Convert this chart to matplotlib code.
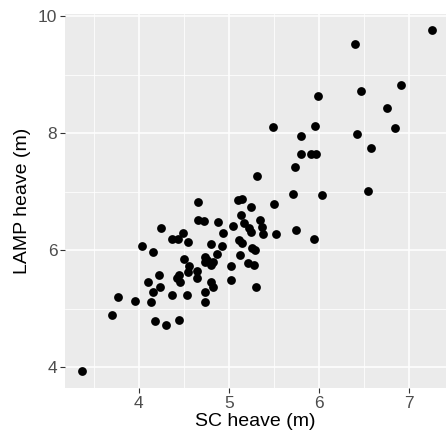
import matplotlib
matplotlib.use("Agg")
import matplotlib.pyplot as plt
from matplotlib.ticker import MultipleLocator

plt.rcParams['font.family'] = ['Liberation Sans', 'DejaVu Sans']

# SC heave vs LAMP heave (m)
sc_heave = [
    7.26, 6.40, 6.91, 6.47, 5.99, 6.75, 5.49, 5.96, 6.42, 6.84,
    5.80, 6.58, 5.80, 5.91, 5.97, 5.73, 5.31, 5.71, 6.03, 6.54,
    4.66, 5.10, 5.14, 5.50, 5.25, 5.13, 4.66, 4.72, 4.88, 5.35,
    4.25, 5.04, 5.17, 5.22, 5.37, 5.74, 4.93, 5.25, 5.38, 5.52,
    4.49, 4.37, 4.44, 4.55, 5.95, 5.11, 5.15, 4.80, 4.92, 4.04,
    4.16, 5.26, 5.29, 5.12, 4.87, 4.50, 4.73, 4.76, 4.82, 4.80,
    4.73, 5.21, 5.28, 5.02, 4.56, 4.64, 4.55, 4.45, 4.22, 4.64,
    4.42, 4.46, 5.02, 4.10, 4.80, 4.23, 4.82, 5.30, 4.16, 4.73,
    3.77, 4.37, 4.53, 3.96, 4.14, 4.73, 3.70, 4.18, 4.30, 4.45,
    3.37,
]
lamp_heave = [
    9.76, 9.52, 8.82, 8.72, 8.63, 8.44, 8.11, 8.13, 7.98, 8.09,
    7.95, 7.74, 7.64, 7.65, 7.65, 7.43, 7.26, 6.96, 6.95, 7.01,
    6.82, 6.85, 6.88, 6.79, 6.74, 6.60, 6.52, 6.50, 6.48, 6.51,
    6.38, 6.41, 6.46, 6.37, 6.39, 6.35, 6.30, 6.31, 6.27, 6.27,
    6.29, 6.19, 6.19, 6.14, 6.19, 6.18, 6.12, 6.10, 6.07, 6.07,
    5.97, 6.03, 6.01, 5.91, 5.93, 5.85, 5.88, 5.83, 5.79, 5.74,
    5.79, 5.78, 5.75, 5.72, 5.73, 5.64, 5.63, 5.57, 5.58, 5.53,
    5.52, 5.46, 5.49, 5.45, 5.46, 5.36, 5.37, 5.36, 5.29, 5.29,
    5.20, 5.23, 5.23, 5.13, 5.12, 5.11, 4.89, 4.79, 4.71, 4.80,
    3.93,
]

fig = plt.figure(figsize=(4.46, 4.43), dpi=100)
ax = fig.add_axes([65 / 446, 55 / 443, 381 / 446, 374 / 443])
ax.set_facecolor("#EBEBEB")

ax.scatter(sc_heave, lamp_heave, s=40, color="black", zorder=3, linewidths=0)

ax.set_xlim(3.18, 7.41)
ax.set_ylim(3.64, 10.04)
ax.xaxis.set_major_locator(MultipleLocator(1))
ax.yaxis.set_major_locator(MultipleLocator(2))
ax.xaxis.set_minor_locator(MultipleLocator(0.5))
ax.yaxis.set_minor_locator(MultipleLocator(1))
ax.grid(which="major", color="white", linewidth=1.1)
ax.grid(which="minor", color="white", linewidth=0.55)
ax.set_axisbelow(True)
for s in ax.spines.values():
    s.set_visible(False)

ax.tick_params(which="major", length=3.5, width=0.8, color="#333333",
               labelcolor="#4D4D4D", labelsize=12.5, pad=2)
ax.tick_params(which="minor", length=0)

ax.set_xlabel("SC heave (m)", fontsize=14, color="black", labelpad=2)
ax.set_ylabel("LAMP heave (m)", fontsize=14, color="black", labelpad=5)

fig.savefig("out.png", dpi=100)
